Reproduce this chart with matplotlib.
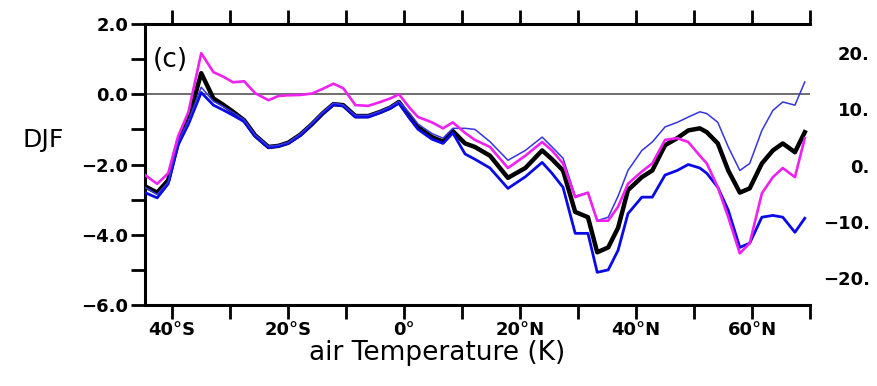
import numpy as np
import matplotlib
matplotlib.use("Agg")
import matplotlib.pyplot as plt
from matplotlib.ticker import MultipleLocator

# latitude (deg, negative = south)
lat = [-44.7, -42.6, -40.7, -39.0, -37.2, -35.0, -32.9, -31.2, -29.5, -27.6,
       -25.7, -23.4, -21.7, -20.0, -17.9, -15.9, -14.1, -12.2, -10.5, -8.4,
       -6.2, -4.1, -2.4, -0.9, 1.0, 2.4, 4.8, 6.7, 8.4, 10.5,
       12.2, 14.8, 17.9, 20.9, 23.8, 25.5, 27.4, 29.5, 31.7, 33.3,
       35.2, 36.9, 38.6, 41.0, 42.8, 45.0, 47.1, 49.0, 51.0, 52.2,
       54.1, 55.9, 57.9, 59.6, 61.7, 63.6, 65.3, 67.4, 69.1]

black_vals = [-2.62, -2.8, -2.45, -1.35, -0.7, 0.6, -0.12, -0.3, -0.5, -0.74,
              -1.17, -1.5, -1.47, -1.38, -1.15, -0.85, -0.55, -0.28, -0.31, -0.62,
              -0.62, -0.5, -0.38, -0.22, -0.65, -0.94, -1.22, -1.35, -1.05, -1.4,
              -1.5, -1.75, -2.38, -2.1, -1.6, -1.85, -2.17, -3.35, -3.5, -4.5,
              -4.36, -3.8, -2.73, -2.36, -2.17, -1.45, -1.25, -1.03, -0.97, -1.08,
              -1.4, -2.17, -2.8, -2.68, -1.97, -1.6, -1.4, -1.65, -1.08]

magenta_vals = [-2.3, -2.55, -2.25, -1.2, -0.5, 1.17, 0.63, 0.5, 0.34, 0.37,
                0.03, -0.17, -0.05, -0.03, -0.02, 0.02, 0.15, 0.3, 0.17, -0.31,
                -0.33, -0.22, -0.12, 0.0, -0.4, -0.65, -0.8, -0.97, -0.8, -1.1,
                -1.3, -1.5, -2.1, -1.75, -1.36, -1.6, -1.97, -2.93, -2.8, -3.6,
                -3.6, -3.2, -2.55, -2.2, -1.97, -1.3, -1.25, -1.36, -1.75, -1.97,
                -2.65, -3.5, -4.53, -4.24, -2.82, -2.36, -2.1, -2.36, -1.25]

blue_vals = [-2.8, -2.95, -2.55, -1.45, -0.85, 0.05, -0.31, -0.45, -0.6, -0.78,
             -1.2, -1.52, -1.48, -1.4, -1.17, -0.85, -0.55, -0.3, -0.33, -0.65,
             -0.65, -0.52, -0.4, -0.25, -0.7, -1.0, -1.28, -1.4, -1.1, -1.7,
             -1.85, -2.1, -2.68, -2.35, -1.94, -2.25, -2.65, -3.96, -3.96, -5.07,
             -5.0, -4.44, -3.4, -2.93, -2.93, -2.3, -2.17, -2.0, -2.1, -2.25,
             -2.65, -3.3, -4.36, -4.24, -3.5, -3.45, -3.5, -3.93, -3.53]

thin_blue_vals = [-2.65, -2.85, -2.5, -1.35, -0.75, 0.2, -0.2, -0.35, -0.52, -0.72,
                  -1.15, -1.48, -1.45, -1.37, -1.13, -0.82, -0.52, -0.25, -0.3, -0.6,
                  -0.6, -0.48, -0.35, -0.2, -0.55, -0.85, -1.12, -1.25, -0.97, -0.97,
                  -1.0, -1.35, -1.88, -1.6, -1.22, -1.5, -1.82, -2.9, -2.8, -3.6,
                  -3.5, -2.9, -2.17, -1.6, -1.36, -0.93, -0.8, -0.65, -0.5, -0.55,
                  -0.8, -1.5, -2.17, -1.97, -1.03, -0.46, -0.22, -0.31, 0.35]

xtick_pos = [-40, -20, 0, 20, 40, 60]
xtick_labels = ["40°S", "20°S", "0°", "20°N", "40°N", "60°N"]
left_ticks = [2.0, 0.0, -2.0, -4.0, -6.0]
right_ticks = [20, 10, 0, -10, -20]

plt.rcParams['font.family'] = ['DejaVu Sans']

fig = plt.figure(figsize=(8.77, 3.86), dpi=100)
ax = fig.add_axes([145 / 877, 1 - 305 / 386, 665 / 877, 281 / 386])

ax.axhline(0, color='#555555', lw=1.2, zorder=1)
ax.plot(lat, black_vals, color='black', lw=3.2, zorder=3)
ax.plot(lat, blue_vals, color='#0a0ae6', lw=2.0, zorder=4)
ax.plot(lat, thin_blue_vals, color='#3535e0', lw=1.1, zorder=4)
ax.plot(lat, magenta_vals, color='#ee22ee', lw=1.9, zorder=5)

ax.set_xlim(-44.7, 70)
ax.set_ylim(-6, 2)

# NCL style frame, open on the right
ax.spines['right'].set_visible(False)
for s in ['left', 'top', 'bottom']:
    ax.spines[s].set_linewidth(2.2)

ax.set_xticks(xtick_pos)
ax.set_xticks(np.arange(-30, 71, 20), minor=True)
ax.set_xticklabels(xtick_labels, fontsize=13, fontweight='bold')
ax.tick_params(axis='x', which='both', direction='out', length=10, width=2,
               top=True, labeltop=False, pad=1.5)

ax.set_yticks(left_ticks)
ax.set_yticklabels([f"{v:.1f}".replace('-', '\u2212') for v in left_ticks],
                   fontsize=13, fontweight='bold')
ax.yaxis.set_minor_locator(MultipleLocator(1.0))
ax.tick_params(axis='y', which='both', direction='out', length=10, width=2,
               right=False, pad=2)

ax2 = ax.twinx()
ax2.set_ylim(-24.8, 25.2)
ax2.set_yticks(right_ticks)
ax2.set_yticklabels([f"{v}.".replace('-', '\u2212') for v in right_ticks],
                    fontsize=13, fontweight='bold', ha='right')
ax2.tick_params(axis='y', length=0, pad=43)
for s in ax2.spines.values():
    s.set_visible(False)

ax.text(0.011, 0.872, "(c)", transform=ax.transAxes, fontsize=19,
        ha='left', va='center')
fig.text(43 / 877, 1 - 140 / 386, "DJF", fontsize=18, ha='center', va='center')
fig.text(437 / 877, 1 - 353 / 386, "air Temperature (K)", fontsize=19,
         ha='center', va='center')

fig.savefig("out.png", dpi=100)
